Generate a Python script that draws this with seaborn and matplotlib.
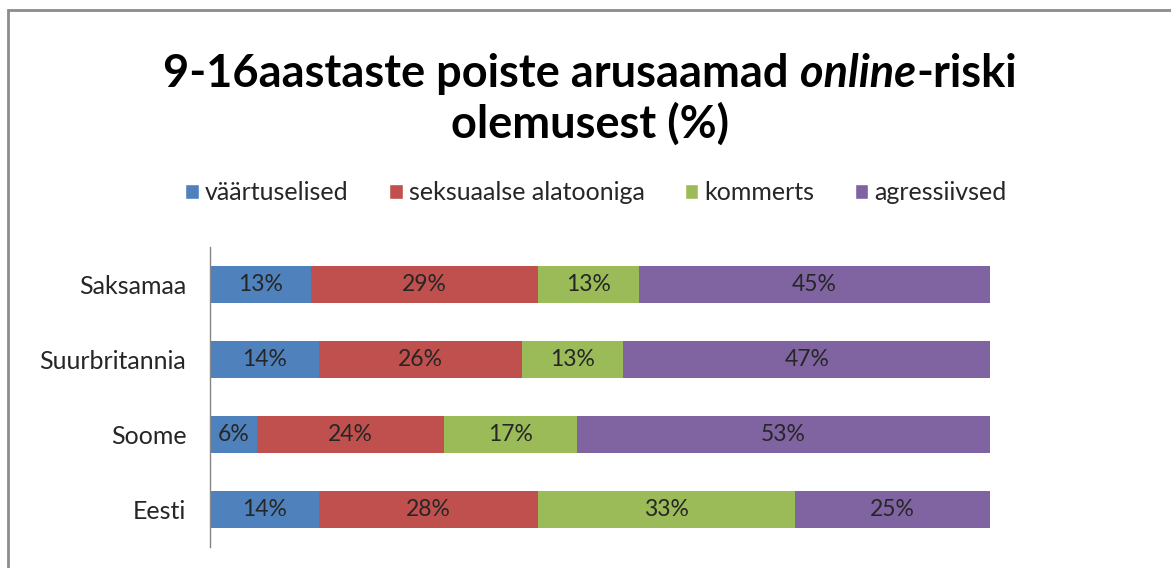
import numpy as np
import pandas as pd
import seaborn as sns
import matplotlib.pyplot as plt
from matplotlib.patches import Rectangle, Patch

# data
countries = ['Saksamaa', 'Suurbritannia', 'Soome', 'Eesti']
series = ['väärtuselised', 'seksuaalse alatooniga', 'kommerts', 'agressiivsed']
vaartuselised = [13, 14, 6, 14]
seksuaalne = [29, 26, 24, 28]
kommerts = [13, 13, 17, 33]
agressiivsed = [45, 47, 53, 25]
colors = ['#4F81BD', '#C0504D', '#9BBB59', '#8064A2']

sns.set_style('white')
plt.rcParams['font.family'] = ['Lato', 'DejaVu Sans']

df = pd.DataFrame({'country': countries,
                   series[0]: vaartuselised, series[1]: seksuaalne,
                   series[2]: kommerts, series[3]: agressiivsed})
cum = df[series].cumsum(axis=1)

fig = plt.figure(figsize=(11.71, 5.68), dpi=100)
W, H = 1171, 568
ax = fig.add_axes([210 / W, 1 - 547 / H, 780 / W, 300 / H])

# overlay cumulative bars, longest first
for s, c in reversed(list(zip(series, colors))):
    sns.barplot(x=cum[s], y=df['country'], color=c, width=0.5,
                orient='h', ax=ax, linewidth=0, saturation=1)

for i, row in df.iterrows():
    left = 0
    for s in series:
        v = row[s]
        ax.text(left + v / 2, i, f'{v}%', ha='center', va='center',
                fontsize=16.5, color='#262626')
        left += v

ax.set_xlim(0, 100)
ax.set_ylim(3.5, -0.5)
ax.set_xlabel('')
ax.set_ylabel('')
ax.set_xticks([])
ax.tick_params(axis='y', length=0, pad=17, labelsize=18, labelcolor='#262626')
for sp in ['top', 'right', 'bottom']:
    ax.spines[sp].set_visible(False)
ax.spines['left'].set_color('#868686')
ax.spines['left'].set_linewidth(1)

# chart border
fig.patches.append(Rectangle((8 / W, -0.1), 1.2, 1 - 10 / H + 0.1,
                             transform=fig.transFigure, fill=False,
                             edgecolor='#8c8c8c', linewidth=2))

# title with italic word
fig.canvas.draw()
r = fig.canvas.get_renderer()
parts = [('9-16aastaste poiste arusaamad ', 'normal'), ('online', 'italic'), ('-riski', 'normal')]
tsize = 32.5
widths = []
for txt, st in parts:
    t = fig.text(0, 0, txt, fontsize=tsize, fontweight='bold', style=st)
    widths.append(t.get_window_extent(r).width)
    t.remove()
x = 590 - sum(widths) / 2
y1 = 1 - 87 / H
for (txt, st), w in zip(parts, widths):
    fig.text(x / W, y1, txt, fontsize=tsize, fontweight='bold', style=st,
             ha='left', va='baseline', color='black')
    x += w
fig.text(590 / W, 1 - 138 / H, 'olemusest (%)', fontsize=tsize, fontweight='bold',
         ha='center', va='baseline', color='black')

handles = [Patch(facecolor=c, label=s) for s, c in zip(series, colors)]
fig.legend(handles=handles, loc='center', bbox_to_anchor=(596 / W, 1 - 193 / H),
           ncol=4, frameon=False, fontsize=18, handlelength=0.55, handleheight=0.55,
           handletextpad=0.25, columnspacing=1.6, labelcolor='#262626')

fig.savefig('out.png', dpi=100)
